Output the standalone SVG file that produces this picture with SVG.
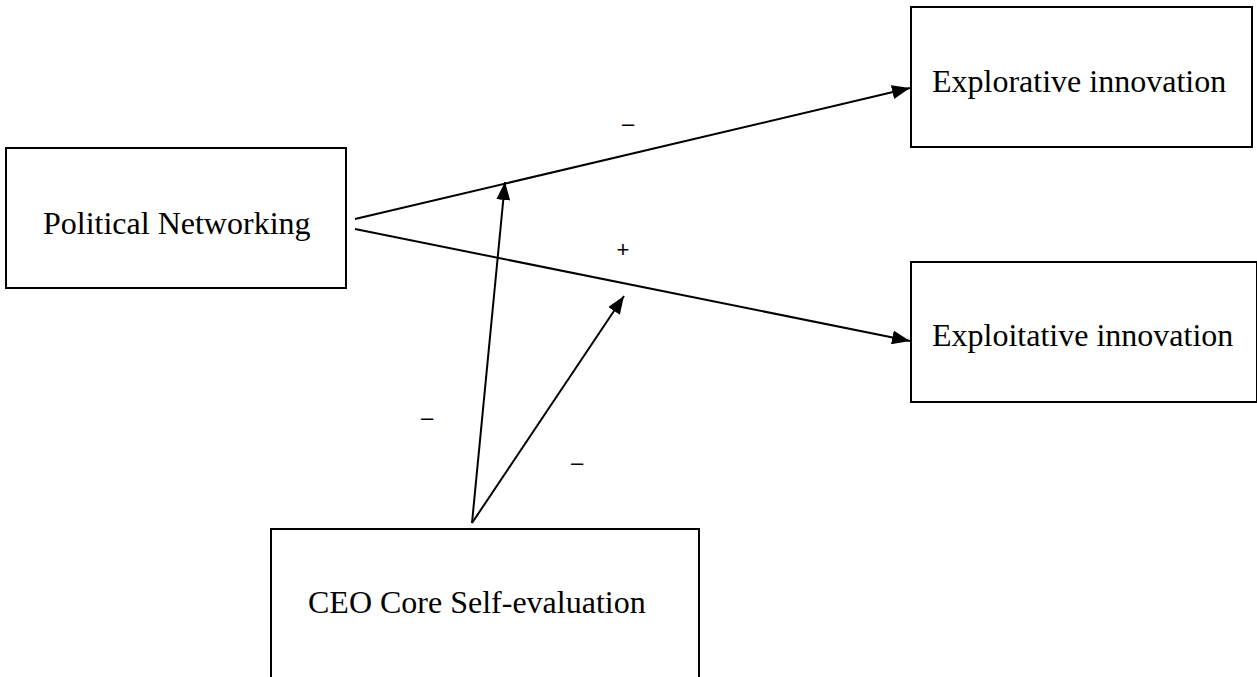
<svg xmlns="http://www.w3.org/2000/svg" width="1257" height="677" viewBox="0 0 1257 677">
<defs>
<style>
.box{fill:#fff;stroke:#000;stroke-width:2}
.lbl{font-family:"Liberation Serif","Times New Roman",serif;font-size:32px;fill:#000}
.sign{font-family:"Liberation Sans",Arial,sans-serif;font-size:22px;fill:#000}
.conn{stroke:#000;stroke-width:2;fill:none;marker-end:url(#arr)}
</style>
<marker id="arr" markerUnits="userSpaceOnUse" markerWidth="20" markerHeight="14" refX="18" refY="7" orient="auto">
<path d="M0,0 L18,7 L0,14 Z" fill="#000"/>
</marker>
</defs>
<rect width="1257" height="677" fill="#fff"/>
<g id="political-networking">
<rect class="box" x="6" y="148" width="340" height="140"/>
<text class="lbl" x="43" y="234">Political Networking</text>
</g>
<g id="explorative">
<rect class="box" x="911" y="7" width="341" height="140"/>
<text class="lbl" x="932" y="92">Explorative innovation</text>
</g>
<g id="exploitative">
<rect class="box" x="911" y="262" width="346" height="140"/>
<text class="lbl" x="932" y="346">Exploitative innovation</text>
</g>
<g id="ceo-cse">
<rect class="box" x="271" y="529" width="428" height="150"/>
<text class="lbl" x="308" y="613">CEO Core Self-evaluation</text>
</g>
<g id="connectors">
<line class="conn" x1="355" y1="219" x2="910" y2="88"/>
<line class="conn" x1="355" y1="229" x2="910" y2="341"/>
<line class="conn" x1="472" y1="523" x2="505" y2="182"/>
<line class="conn" x1="472" y1="523" x2="624" y2="296"/>
</g>
<g id="signs">
<text class="sign" x="628" y="131" text-anchor="middle">–</text>
<text class="sign" x="623" y="257" text-anchor="middle">+</text>
<text class="sign" x="427" y="425" text-anchor="middle">–</text>
<text class="sign" x="577" y="470" text-anchor="middle">–</text>
</g>
</svg>
